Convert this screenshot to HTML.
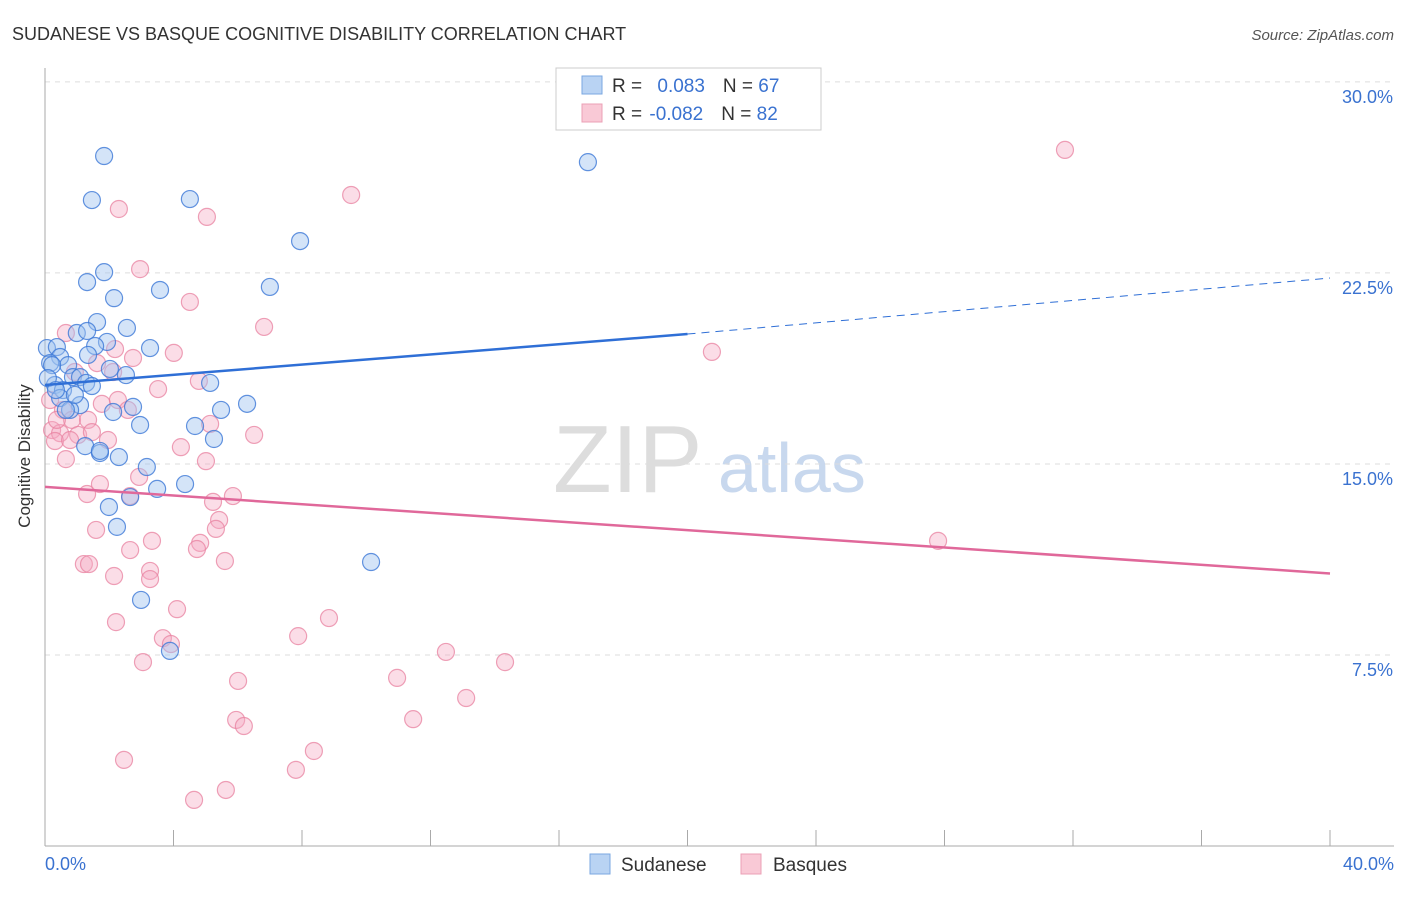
<!DOCTYPE html>
<html><head><meta charset="utf-8"><style>
body{margin:0;background:#fff;font-family:"Liberation Sans",sans-serif}
svg text{font-family:"Liberation Sans",sans-serif}
</style></head><body>
<svg id="chart" width="1406" height="892">
<text x="12" y="40" font-size="18" fill="#333">SUDANESE VS BASQUE COGNITIVE DISABILITY CORRELATION CHART</text>
<text x="1394" y="40" font-size="15" fill="#555" font-style="italic" text-anchor="end">Source: ZipAtlas.com</text>
<text x="30" y="456" font-size="17" fill="#333" text-anchor="middle" transform="rotate(-90 30 456)">Cognitive Disability</text>
<g><text x="553" y="492" font-size="96" fill="#ddd" font-family="Liberation Serif">ZIP</text><text x="718" y="492" font-size="70" fill="#c8d8ee">atlas</text></g>
<g id="grid"></g><g id="marks"></g>
<g>
<rect x="556" y="68" width="265" height="62" fill="#fff" stroke="#ccc"/>
<rect x="582" y="76" width="20" height="18" fill="#b9d3f3" stroke="#7aa7e0"/>
<rect x="582" y="104" width="20" height="18" fill="#f9c9d6" stroke="#eba0b6"/>
<text x="612" y="92" font-size="19" fill="#333">R = <tspan fill="#3a72d0" dx="10">0.083</tspan><tspan fill="#333" dx="18">N = </tspan><tspan fill="#3a72d0">67</tspan></text>
<text x="612" y="120" font-size="19" fill="#333">R = <tspan fill="#3a72d0" dx="2">-0.082</tspan><tspan fill="#333" dx="18">N = </tspan><tspan fill="#3a72d0">82</tspan></text>
</g>
<g>
<rect x="590" y="854" width="20" height="20" fill="#b9d3f3" stroke="#7aa7e0"/><text x="621" y="871" font-size="19" fill="#333">Sudanese</text>
<rect x="741" y="854" width="20" height="20" fill="#f9c9d6" stroke="#eba0b6"/><text x="773" y="871" font-size="19" fill="#333">Basques</text>
</g>
</svg>
<script>
const yTicks=[7.5,15,22.5,30];
const yTickLabels=["7.5%","15.0%","22.5%","30.0%"];
const xTickLabels=["0.0%","40.0%"];
const blueX=[1.84,1.46,4.51,16.9,7.94,1.84,1.31,2.15,3.58,7.0,1.62,2.55,0.99,1.31,1.93,3.27,1.56,0.06,0.37,0.47,0.72,1.34,2.02,2.52,0.16,0.87,1.09,1.28,0.31,0.56,1.46,5.14,0.47,1.09,2.74,2.12,5.48,6.29,4.67,2.96,0.78,5.26,1.25,1.71,2.30,3.17,4.36,3.49,2.65,1.99,2.24,10.15,2.99,3.89,0.22,0.09,0.65,1.71,0.34,0.93];
const blueY=[27.09,25.36,25.40,26.85,23.75,22.53,22.14,21.51,21.83,21.95,20.57,20.34,20.14,20.22,19.79,19.55,19.63,19.55,19.59,19.20,18.88,19.28,18.73,18.49,18.96,18.41,18.41,18.18,18.10,17.90,18.06,18.18,17.59,17.31,17.24,17.04,17.12,17.36,16.49,16.53,17.12,15.98,15.70,15.43,15.27,14.88,14.21,14.02,13.70,13.31,12.53,11.15,9.66,7.66,18.88,18.37,17.12,15.51,17.90,17.71];
const pinkX=[31.75,9.53,2.30,5.04,2.96,4.51,6.82,20.76,0.65,2.18,2.74,4.01,3.52,4.79,1.62,2.12,0.93,0.16,0.56,0.84,1.34,1.77,2.27,2.58,0.22,0.47,1.03,1.46,1.96,0.31,0.65,5.14,6.51,4.23,5.01,2.93,1.31,1.71,2.65,5.85,5.23,5.42,5.32,1.59,3.33,2.65,4.83,4.73,5.60,1.21,1.37,2.15,3.27,3.27,4.11,2.21,7.88,8.84,3.67,3.92,3.05,12.48,14.32,6.01,10.96,13.11,5.95,6.19,11.46,8.37,2.46,7.81,5.63,4.64,27.8,0.37,0.78];
const pinkY=[27.33,25.56,25.01,24.70,22.65,21.36,20.38,19.40,20.14,19.51,19.16,19.36,17.94,18.26,18.96,18.61,18.61,17.51,17.12,16.73,16.73,17.36,17.51,17.12,16.33,16.21,16.14,16.25,15.94,15.90,15.19,16.57,16.14,15.66,15.11,14.49,13.82,14.21,13.74,13.74,13.51,12.80,12.45,12.41,11.98,11.62,11.90,11.66,11.19,11.07,11.07,10.60,10.80,10.48,9.30,8.79,8.24,8.95,8.16,7.93,7.22,7.62,7.22,6.48,6.60,5.81,4.95,4.71,4.98,3.73,3.38,2.99,2.20,1.81,11.98,16.73,15.94];
const blueTrend=[18.1,20.1,22.3];
const pinkTrend=[14.1,10.7];
const sx=v=>45+v*32.125, sy=v=>846-v*25.47;
const NS="http://www.w3.org/2000/svg";
const grid=document.getElementById('grid'), marks=document.getElementById('marks');
function mk(p,tag,at){const e=document.createElementNS(NS,tag);for(const k in at)e.setAttribute(k,at[k]);p.appendChild(e);return e;}
yTicks.forEach((t,i)=>{
 const l=mk(grid,'line',{x1:45,x2:1394,y1:sy(t),y2:sy(t),stroke:'#ddd','stroke-dasharray':'5,5'});
 
 
 const tx=mk(grid,'text',{x:1393,y:sy(t)+21,'font-size':18,fill:'#3a72d0','text-anchor':'end'});tx.textContent=yTickLabels[i];
 
 
});
mk(grid,'line',{x1:45,x2:45,y1:68,y2:846,stroke:'#aaa'});
mk(grid,'line',{x1:45,x2:1394,y1:846,y2:846,stroke:'#aaa'});
for(let i=1;i<=10;i++){mk(grid,'line',{x1:sx(i*4),x2:sx(i*4),y1:830,y2:846,stroke:'#aaa'});}
[[0,'start',45],[1,'end',1394]].forEach(([i,a,x])=>{const t=mk(grid,'text',{x:x,y:870,'font-size':18,fill:'#3a72d0','text-anchor':a});t.textContent=xTickLabels[i];
 
 });
pinkX.forEach((x,i)=>{const c=mk(marks,'circle',{cx:sx(x),cy:sy(pinkY[i]),r:8.5,fill:'rgba(246,170,195,0.4)',stroke:'rgba(232,130,160,0.75)','stroke-width':1.2});
 
 });
blueX.forEach((x,i)=>{const c=mk(marks,'circle',{cx:sx(x),cy:sy(blueY[i]),r:8.5,fill:'rgba(160,195,240,0.45)',stroke:'rgba(60,120,215,0.8)','stroke-width':1.2});
 
 });
let b=mk(marks,'line',{x1:sx(0),y1:sy(blueTrend[0]),x2:sx(20),y2:sy(blueTrend[1]),stroke:'#2f6fd6','stroke-width':2.5});


b=mk(marks,'line',{x1:sx(20),y1:sy(blueTrend[1]),x2:sx(40),y2:sy(blueTrend[2]),stroke:'#2f6fd6','stroke-width':1,'stroke-dasharray':'8,6'});


b=mk(marks,'line',{x1:sx(0),y1:sy(pinkTrend[0]),x2:sx(40),y2:sy(pinkTrend[1]),stroke:'#e0689a','stroke-width':2.5});


</script>
</body></html>
